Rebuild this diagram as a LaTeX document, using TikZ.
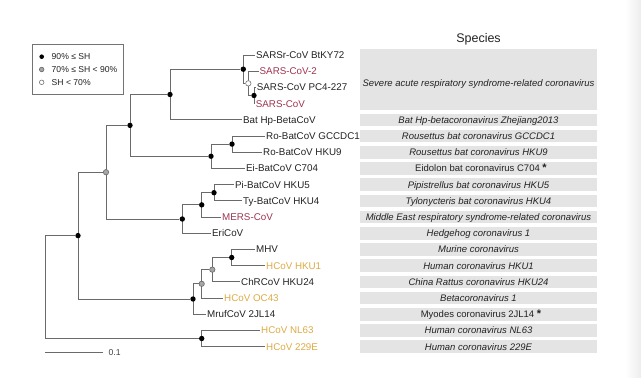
\documentclass[tikz,border=0pt]{standalone}
\usepackage{fontspec}
\setmainfont{Liberation Sans}
\usetikzlibrary{backgrounds}
\definecolor{treeline}{HTML}{6A6A6A}
\definecolor{sarsred}{HTML}{9E3350}
\definecolor{hcovgold}{HTML}{DDAA44}
\definecolor{boxgray}{HTML}{E4E4E4}
\definecolor{txt}{HTML}{222222}
\begin{document}
\begin{tikzpicture}[x=1pt,y=-1pt,
 dotblack/.style={circle, fill=black, inner sep=0pt, minimum size=5.4pt},
 dotgray/.style={circle, fill=black!35, draw=black!60, line width=0.6pt, inner sep=0pt, minimum size=5.4pt},
 dotwhite/.style={circle, fill=white, draw=black!55, line width=0.6pt, inner sep=0pt, minimum size=5.4pt},
 lab/.style={anchor=west, inner xsep=0.6pt, inner ysep=0pt, text height=7pt, text depth=0pt, font=\fontsize{9.8}{10}\selectfont, text=txt},
 redlab/.style={lab, text=sarsred},
 goldlab/.style={lab, text=hcovgold},
 branch/.style={draw=treeline, line width=1pt},
 spbox/.style={fill=boxgray},
 sptext/.style={inner sep=0pt, text height=6.8pt, text depth=0pt, font=\fontsize{9.5}{10}\selectfont\itshape, text=txt},
 legtext/.style={anchor=west, inner sep=0pt, text height=6.2pt, text depth=0pt, font=\fontsize{8.6}{10}\selectfont, text=txt},
]
\useasboundingbox (0,0) rectangle (641,378);
\fill[left color=white, right color=black!7] (625,0) rectangle (641,378);

% ---------- legend ----------
\draw[draw=black!55, line width=0.7pt] (32.7,44.3) rectangle (123.3,94.3);
\node[dotblack, minimum size=4.6pt] (lg1) at (41.7,56.7) {};
\node[dotgray, minimum size=4.6pt] (lg2) at (41.7,69.5) {};
\node[dotwhite, minimum size=4.6pt] (lg3) at (41.7,82.3) {};
\node[legtext] (lt1) at (51.5,56.7) {90\% ≤ SH};
\node[legtext] (lt2) at (51.5,69.5) {70\% ≤ SH < 90\%};
\node[legtext] (lt3) at (51.5,82.3) {SH < 70\%};

% ---------- species column ----------
\node[inner sep=0pt, text height=9pt, text depth=0pt, font=\fontsize{12.5}{14}\selectfont, text=txt] (hdr) at (478.5,38.3) {Species};
\fill[spbox] (360,49) rectangle (597,110);
\foreach \yy in {119.8,136,152.2,168.4,184.6,200.8,217,233.2,249.4,265.6,281.8,298,314.2,330.4,346.6}
  \fill[spbox] (360,{\yy-6.3}) rectangle (597,{\yy+6.3});
\node[sptext] (sp1) at (478.5,83) {Severe acute respiratory syndrome-related coronavirus};
\node[sptext] (sp2) at (478.5,119.8) {Bat Hp-betacoronavirus Zhejiang2013};
\node[sptext] (sp3) at (478.5,136) {Rousettus bat coronavirus GCCDC1};
\node[sptext] (sp4) at (478.5,152.2) {Rousettus bat coronavirus HKU9};
\node[sptext] (sp5) at (481,168.4) {\upshape Eidolon bat coronavirus C704 \raisebox{0.3pt}{\bfseries\fontsize{11}{11}\selectfont *}};
\node[sptext] (sp6) at (478.5,184.6) {Pipistrellus bat coronavirus HKU5};
\node[sptext] (sp7) at (478.5,200.8) {Tylonycteris bat coronavirus HKU4};
\node[sptext] (sp8) at (478.5,217) {Middle East respiratory syndrome-related coronavirus};
\node[sptext] (sp9) at (478.5,233.2) {Hedgehog coronavirus 1};
\node[sptext] (sp10) at (478.5,249.4) {Murine coronavirus};
\node[sptext] (sp11) at (478.5,265.6) {Human coronavirus HKU1};
\node[sptext] (sp12) at (478.5,281.8) {China Rattus coronavirus HKU24};
\node[sptext] (sp13) at (478.5,298) {Betacoronavirus 1};
\node[sptext] (sp14) at (481,314.2) {\upshape Myodes coronavirus 2JL14 \raisebox{0.3pt}{\bfseries\fontsize{11}{11}\selectfont *}};
\node[sptext] (sp15) at (478.5,330.4) {Human coronavirus NL63};
\node[sptext] (sp16) at (478.5,346.6) {Human coronavirus 229E};

% ---------- tip labels ----------
\node[lab] (t0) at (255.4,55) {SARSr-CoV BtKY72};
\node[redlab] (t1) at (258.9,71.2) {SARS-CoV-2};
\node[lab] (t2) at (256.1,87.4) {SARS-CoV PC4-227};
\node[redlab] (t3) at (255.1,103.6) {SARS-CoV};
\node[lab] (t4) at (242.4,119.8) {Bat Hp-BetaCoV};
\node[lab] (t5) at (265.4,136) {Ro-BatCoV GCCDC1};
\node[lab] (t6) at (262.4,152.2) {Ro-BatCoV HKU9};
\node[lab] (t7) at (245.4,168.4) {Ei-BatCoV C704};
\node[lab] (t8) at (234.4,184.6) {Pi-BatCoV HKU5};
\node[lab] (t9) at (242.4,200.8) {Ty-BatCoV HKU4};
\node[redlab] (t10) at (221.4,217) {MERS-CoV};
\node[lab] (t11) at (211.4,233.2) {EriCoV};
\node[lab] (t12) at (255.4,249.4) {MHV};
\node[goldlab] (t13) at (265.4,265.6) {HCoV HKU1};
\node[lab] (t14) at (240.4,281.8) {ChRCoV HKU24};
\node[goldlab] (t15) at (223.4,298) {HCoV OC43};
\node[lab] (t16) at (206.4,314.2) {MrufCoV 2JL14};
\node[goldlab] (t17) at (260.4,330.4) {HCoV NL63};
\node[goldlab] (t18) at (265.4,346.6) {HCoV 229E};

% ---------- internal nodes ----------
\coordinate (root) at (45,287);
\node[dotblack] (A) at (78,235.6) {};
\node[dotgray]  (B) at (106,172.2) {};
\node[dotblack] (C) at (130,125.4) {};
\node[dotblack] (D) at (170,94.5) {};
\node[dotblack] (E) at (243.3,69.2) {};
\node[dotwhite] (F) at (248.3,83.35) {};
\node[dotblack] (G) at (254,95.5) {};
\node[dotblack] (H) at (211,156.25) {};
\node[dotblack] (I) at (232,144.1) {};
\node[dotblack] (J) at (182.3,219) {};
\node[dotblack] (K) at (201.7,204.85) {};
\node[dotblack] (L) at (214,192.7) {};
\node[dotblack] (M) at (193,299) {};
\node[dotgray]  (N) at (201.7,283.8) {};
\node[dotgray]  (O) at (212.3,269.65) {};
\node[dotblack] (P) at (231.7,257.5) {};
\node[dotblack] (Q) at (201.7,338.5) {};

% ---------- branches ----------
\begin{scope}[on background layer]
\foreach \p/\c in {root/A, root/Q, A/B, A/M, B/C, B/J, C/D, C/H, D/E, D/t4,
  E/t0, E/F, F/t1, F/G, G/t2, G/t3, H/I, H/t7, I/t5, I/t6, J/K, J/t11,
  K/L, K/t10, L/t8, L/t9, M/N, M/t16, N/O, N/t15, O/P, O/t14, P/t12, P/t13,
  Q/t17, Q/t18}
  \draw[branch] (\p.center) |- (\c.west);
\end{scope}

% ---------- scale bar ----------
\coordinate (sb1) at (45,352.3);
\coordinate (sb2) at (103,352.3);
\draw[branch, line width=0.8pt] (sb1) -- (sb2);
\node[legtext, text=black!75] (sbl) at (108.5,352.3) {0.1};
\end{tikzpicture}
\end{document}
